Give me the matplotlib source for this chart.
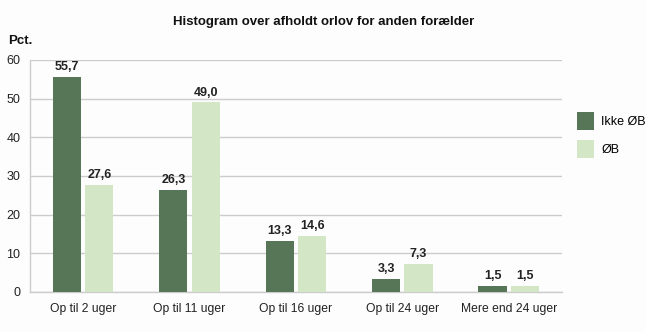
import numpy as np
import matplotlib.pyplot as plt

categories = ['Op til 2 uger', 'Op til 11 uger', 'Op til 16 uger', 'Op til 24 uger', 'Mere end 24 uger']
ikke_ob = [55.7, 26.3, 13.3, 3.3, 1.5]
ob = [27.6, 49.0, 14.6, 7.3, 1.5]
yticks = [0, 10, 20, 30, 40, 50, 60]

dark = '#577657'
light = '#d3e6c5'
grid = '#cccccc'

plt.rcParams['font.family'] = ['Liberation Sans', 'DejaVu Sans']

fig = plt.figure(figsize=(6.46, 3.32), dpi=100)
fig.patch.set_facecolor('#fdfdfd')
ax = fig.add_axes([0.0464, 0.1205, 0.8235, 0.699])
ax.set_facecolor('#fdfdfd')

x = np.arange(len(categories))
w = 0.265
off = 0.152
b1 = ax.bar(x - off, ikke_ob, w, color=dark, label='Ikke ØB', zorder=3)
b2 = ax.bar(x + off, ob, w, color=light, label='ØB', zorder=3)

# value labels with comma decimal
for bars, vals in [(b1, ikke_ob), (b2, ob)]:
    for r, v in zip(bars, vals):
        ax.text(r.get_x() + r.get_width() / 2, v + 1.0, f'{v:.1f}'.replace('.', ','),
                ha='center', va='bottom', fontsize=9, fontweight='bold', color='#222222')

ax.set_xlim(-0.5, len(categories) - 0.5)
ax.set_ylim(0, 60)
ax.set_yticks(yticks)
ax.set_xticks(x)
ax.set_xticklabels(categories, fontsize=8.7, color='#222222')
ax.tick_params(axis='y', length=0, pad=7, labelsize=9, labelcolor='#222222')
ax.tick_params(axis='x', length=0, pad=8)
ax.yaxis.grid(True, color=grid, linewidth=1.0, zorder=0)
for s in ['top', 'right']:
    ax.spines[s].set_visible(False)
ax.spines['left'].set_color(grid)
ax.spines['bottom'].set_color(grid)
ax.spines['left'].set_linewidth(1.0)
ax.spines['bottom'].set_linewidth(1.0)

fig.text(0.5015, 0.935, 'Histogram over afholdt orlov for anden forælder',
         ha='center', va='center', fontsize=9.5, fontweight='bold', color='#111111')
fig.text(0.012, 0.878, 'Pct.', ha='left', va='center', fontsize=9.5,
         fontweight='bold', color='#111111')

ax.legend(loc='center left', bbox_to_anchor=(1.008, 0.677), frameon=False,
          fontsize=9, handlelength=1.3, handleheight=1.8, labelspacing=0.85,
          handletextpad=0.6)

fig.savefig('out.png', dpi=100, facecolor=fig.get_facecolor())
